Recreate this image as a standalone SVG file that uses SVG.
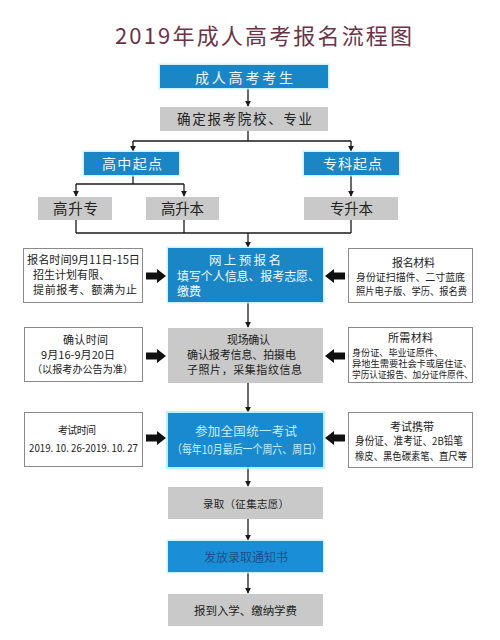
<svg xmlns="http://www.w3.org/2000/svg" width="500" height="640" viewBox="0 0 500 640">
<defs>
<style>
text{font-family:"Noto Sans CJK SC","Noto Sans",sans-serif;}
.blue{fill:#1a86c6;}
.gray{fill:#c9c9c9;}
.side{fill:#ffffff;stroke:#8a8a8a;stroke-width:1;}
.glow{fill:none;stroke:#bff0ff;stroke-width:3;opacity:0.8;}
.tw{fill:#f2f8ff;}
.td{fill:#222;}
.ts{fill:#222;}
.ln{fill:none;stroke:#1a1a1a;stroke-width:1.3;}
.blk{fill:#111;}
</style>
<marker id="ah" viewBox="0 0 8 8" refX="7" refY="4" markerWidth="6" markerHeight="6" orient="auto" markerUnits="userSpaceOnUse">
<path d="M0,0 L8,4 L0,8 z" fill="#1a1a1a"/>
</marker>
<path id="ra" d="M0,-3.5 L11,-3.5 L11,-7 L20,0 L11,7 L11,3.5 L0,3.5 z"/>
</defs>
<rect width="500" height="640" fill="#ffffff"/>
<text x="115" y="44" font-size="22" fill="#6b3446" textLength="297" lengthAdjust="spacing">2019年成人高考报名流程图</text>

<g id="connectors">
<path class="ln" d="M248,88 V106" marker-end="url(#ah)"/>
<path class="ln" d="M248,131 V141 M133,141 H351"/>
<path class="ln" d="M133,141 V151" marker-end="url(#ah)"/>
<path class="ln" d="M351,141 V151" marker-end="url(#ah)"/>
<path class="ln" d="M133,175 V184 M76,184 H184"/>
<path class="ln" d="M76,184 V196" marker-end="url(#ah)"/>
<path class="ln" d="M184,184 V196" marker-end="url(#ah)"/>
<path class="ln" d="M351,175 V196" marker-end="url(#ah)"/>
<path class="ln" d="M76,220 V233 M184,220 V233 M351,220 V233 M76,233 H351"/>
<path class="ln" d="M248,233 V247" marker-end="url(#ah)"/>
<path class="ln" d="M248,302 V327" marker-end="url(#ah)"/>
<path class="ln" d="M248,383 V412" marker-end="url(#ah)"/>
<path class="ln" d="M248,467 V486" marker-end="url(#ah)"/>
<path class="ln" d="M248,519 V540" marker-end="url(#ah)"/>
<path class="ln" d="M248,572 V593" marker-end="url(#ah)"/>
<use href="#ra" class="blk" transform="translate(146,276)"/>
<use href="#ra" class="blk" transform="translate(345,276) scale(-1,1)"/>
<use href="#ra" class="blk" transform="translate(146,356)"/>
<use href="#ra" class="blk" transform="translate(345,356) scale(-1,1)"/>
<use href="#ra" class="blk" transform="translate(146,438)"/>
<use href="#ra" class="blk" transform="translate(345,438) scale(-1,1)"/>
</g>

<g id="n-start">
<rect class="glow" x="160" y="65" width="168" height="23"/>
<rect class="blue" x="160" y="65" width="168" height="23"/>
<text class="tw" x="195" y="82.5" font-size="14" textLength="98">成人高考考生</text>
</g>
<g id="n-choose">
<rect class="gray" x="160" y="107" width="168" height="24"/>
<text class="td" x="177" y="124" font-size="13.5" textLength="135">确定报考院校、专业</text>
</g>
<g id="n-gz">
<rect class="glow" x="84" y="152" width="95" height="23"/>
<rect class="blue" x="84" y="152" width="95" height="23"/>
<text class="tw" x="102" y="168.5" font-size="14" textLength="60">高中起点</text>
</g>
<g id="n-zk">
<rect class="glow" x="304" y="152" width="95" height="23"/>
<rect class="blue" x="304" y="152" width="95" height="23"/>
<text class="tw" x="323" y="168.5" font-size="14" textLength="59">专科起点</text>
</g>
<g id="n-gsz">
<rect class="gray" x="38" y="197" width="74" height="23"/>
<text class="td" x="53" y="214" font-size="14.5" textLength="45">高升专</text>
</g>
<g id="n-gsb">
<rect class="gray" x="146" y="197" width="73" height="23"/>
<text class="td" x="161" y="214" font-size="14.5" textLength="43">高升本</text>
</g>
<g id="n-zsb">
<rect class="gray" x="304" y="197" width="94" height="23"/>
<text class="td" x="330" y="214" font-size="14.5" textLength="43">专升本</text>
</g>

<g id="n-online">
<rect class="glow" x="168" y="248" width="155" height="54"/>
<rect class="blue" x="168" y="248" width="155" height="54"/>
<text class="tw" x="209" y="264.5" font-size="12.5" textLength="72">网上预报名</text>
<text class="tw" x="177" y="280.5" font-size="12" textLength="143">填写个人信息、报考志愿、</text>
<text class="tw" x="177" y="296" font-size="12">缴费</text>
</g>
<g id="n-online-l">
<rect class="side" x="23.5" y="248.5" width="119" height="54"/>
<text class="ts" x="27" y="263.5" font-size="11.5" textLength="113" lengthAdjust="spacingAndGlyphs">报名时间9月11日-15日</text>
<text class="ts" x="33" y="278.5" font-size="11" textLength="77">招生计划有限、</text>
<text class="ts" x="33" y="293.5" font-size="11" textLength="104">提前报考、额满为止</text>
</g>
<g id="n-online-r">
<rect class="side" x="348.5" y="248.5" width="124" height="54"/>
<text class="ts" x="392" y="266.5" font-size="11" textLength="43">报名材料</text>
<text class="ts" x="356" y="280.5" font-size="10.5" textLength="109" lengthAdjust="spacingAndGlyphs">身份证扫描件、二寸蓝底</text>
<text class="ts" x="356" y="294.5" font-size="10.5" textLength="111" lengthAdjust="spacingAndGlyphs">照片电子版、学历、报名费</text>
</g>

<g id="n-confirm">
<rect class="gray" x="168" y="328" width="155" height="55"/>
<text class="td" x="227" y="344" font-size="11" textLength="43">现场确认</text>
<text class="td" x="187" y="359" font-size="11" textLength="109">确认报考信息、拍摄电</text>
<text class="td" x="187" y="373.5" font-size="11" textLength="115">子照片，采集指纹信息</text>
</g>
<g id="n-confirm-l">
<rect class="side" x="24.5" y="327.5" width="118" height="54"/>
<text class="ts" x="63" y="344" font-size="11" textLength="45">确认时间</text>
<text class="ts" x="41" y="358.5" font-size="11" textLength="74">9月16-9月20日</text>
<text class="ts" x="32" y="373" font-size="10.5" textLength="101" lengthAdjust="spacingAndGlyphs">（以报考办公告为准）</text>
</g>
<g id="n-confirm-r">
<rect class="side" x="348.5" y="327.5" width="124" height="55"/>
<text class="ts" x="388" y="341.5" font-size="11" textLength="45">所需材料</text>
<text class="ts" x="352" y="355.5" font-size="9.5" textLength="91" lengthAdjust="spacingAndGlyphs">身份证、毕业证原件、</text>
<text class="ts" x="352" y="366.5" font-size="9.5" textLength="120" lengthAdjust="spacingAndGlyphs">异地生需要社会卡或居住证、</text>
<text class="ts" x="352" y="377.5" font-size="9.5" textLength="121" lengthAdjust="spacingAndGlyphs">学历认证报告、加分证件原件、</text>
</g>

<g id="n-exam">
<rect fill="none" stroke="#9ef0ff" stroke-width="4" opacity="0.8" x="168" y="413" width="155" height="54"/>
<rect fill="#1a8ad0" x="168" y="413" width="155" height="54"/>
<text x="195" y="435.5" font-size="12.5" fill="#c4eeff" textLength="102">参加全国统一考试</text>
<text x="172" y="454" font-size="12" fill="#c4eeff" textLength="150" lengthAdjust="spacingAndGlyphs">（每年10月最后一个周六、周日）</text>
</g>
<g id="n-exam-l">
<rect class="side" x="24.5" y="412.5" width="118" height="54"/>
<text class="ts" x="58" y="433.5" font-size="10" textLength="38">考试时间</text>
<text class="ts" x="29" y="451.5" font-size="11" textLength="109" lengthAdjust="spacingAndGlyphs">2019. 10. 26-2019. 10. 27</text>
</g>
<g id="n-exam-r">
<rect class="side" x="348.5" y="412.5" width="124" height="55"/>
<text class="ts" x="390" y="431" font-size="11" textLength="44">考试携带</text>
<text class="ts" x="355" y="445" font-size="11" textLength="108" lengthAdjust="spacingAndGlyphs">身份证、准考证、2B铅笔</text>
<text class="ts" x="355" y="460" font-size="10.5" textLength="112" lengthAdjust="spacingAndGlyphs">橡皮、黑色碳素笔、直尺等</text>
</g>

<g id="n-admit">
<rect class="gray" x="168" y="487" width="155" height="32"/>
<text class="td" x="203" y="507.5" font-size="10.5" textLength="86">录取（征集志愿）</text>
</g>
<g id="n-notice">
<rect fill="none" stroke="#bff0ff" stroke-width="3" opacity="0.8" x="168" y="541" width="155" height="31"/>
<rect fill="#1a8fd8" x="168" y="541" width="155" height="31"/>
<text x="204" y="562" font-size="12" fill="#1f4f8a" textLength="84">发放录取通知书</text>
</g>
<g id="n-enroll">
<rect class="gray" x="168" y="594" width="155" height="32"/>
<text class="td" x="194" y="614.5" font-size="11.5" textLength="103">报到入学、缴纳学费</text>
</g>
</svg>
